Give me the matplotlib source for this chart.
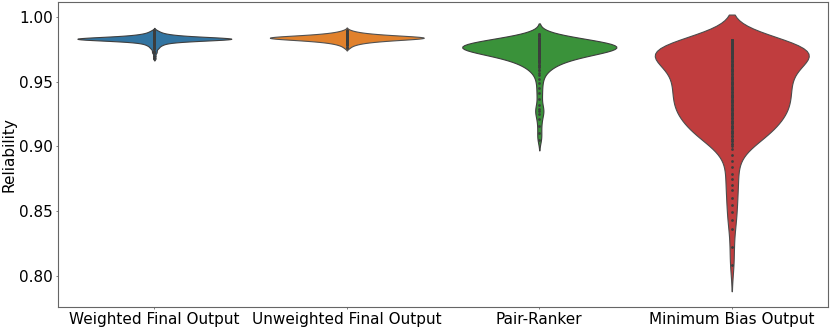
import numpy as np
import matplotlib
matplotlib.use('Agg')
import matplotlib.pyplot as plt
import seaborn as sns

# ==================== 数据 ====================
CATEGORIES = ['Weighted Final Output', 'Unweighted Final Output',
              'Pair-Ranker', 'Minimum Bias Output']

# 每组：可靠性取值 + 对应样本个数
weighted_vals = [0.990, 0.989, 0.988, 0.987, 0.986, 0.985, 0.984, 0.983, 0.982,
                 0.981, 0.980, 0.979, 0.978, 0.977, 0.976, 0.975, 0.974, 0.973,
                 0.972, 0.970, 0.968]
weighted_cnt = [1, 2, 3, 5, 9, 16, 30, 38, 24, 12, 6, 4, 3, 2, 2, 1, 1, 1, 1, 1, 1]

unweighted_vals = [0.990, 0.989, 0.988, 0.987, 0.986, 0.985, 0.984, 0.983, 0.982,
                   0.981, 0.980, 0.979, 0.978, 0.977, 0.976]
unweighted_cnt = [1, 2, 4, 7, 12, 20, 26, 20, 13, 8, 5, 3, 2, 1, 1]

ranker_vals = [0.987, 0.985, 0.983, 0.981, 0.979, 0.977, 0.975, 0.973, 0.971,
               0.969, 0.967, 0.965, 0.963, 0.961, 0.959, 0.957, 0.955, 0.952,
               0.949, 0.945, 0.941, 0.937, 0.932, 0.929, 0.927, 0.925, 0.921,
               0.916, 0.910, 0.905]
ranker_cnt = [2, 4, 8, 12, 16, 18, 16, 12, 9, 7, 5, 4, 3, 2, 2, 1, 1, 1,
              1, 1, 1, 1, 1, 1, 1, 1, 1, 1, 1, 1]

minbias_vals = [0.982, 0.980, 0.978, 0.976, 0.974, 0.972, 0.970, 0.968, 0.966,
                0.964, 0.962, 0.960, 0.958, 0.956, 0.954, 0.952, 0.950, 0.948,
                0.946, 0.944, 0.942, 0.940, 0.938, 0.936, 0.934, 0.932, 0.930,
                0.928, 0.926, 0.924, 0.922, 0.920, 0.918, 0.916, 0.914, 0.912,
                0.910, 0.908, 0.906, 0.904, 0.902, 0.900, 0.898,
                0.893, 0.889, 0.884, 0.879, 0.875, 0.870, 0.866, 0.860, 0.855,
                0.849, 0.843, 0.836, 0.822, 0.808]
minbias_cnt = [6, 7, 8, 8, 8, 7, 6, 5, 5,
               4, 4, 4, 4, 4, 4, 4, 4, 4,
               4, 4, 4, 4, 4, 4, 4, 4, 4,
               4, 4, 4, 4, 3, 3, 3, 3, 3,
               3, 3, 2, 2, 2, 1, 1,
               1, 1, 1, 1, 1, 1, 1, 1, 1,
               1, 1, 1, 1, 1]

GROUPS = [(weighted_vals, weighted_cnt), (unweighted_vals, unweighted_cnt),
          (ranker_vals, ranker_cnt), (minbias_vals, minbias_cnt)]
BW_ADJUST = [0.7, 1.0, 0.7, 0.85]
COLORS = ['C0', 'C1', 'C2', 'C3']

# ==================== 绘图 ====================
fig, ax = plt.subplots(figsize=(8.3, 3.3), dpi=100)

for name, (vals, cnt), bw, col in zip(CATEGORIES, GROUPS, BW_ADJUST, COLORS):
    y = np.repeat(vals, cnt)
    sns.violinplot(x=[name] * len(y), y=y, order=CATEGORIES, color=col,
                   inner='point', inner_kws=dict(s=4, color='#3d3d3d', linewidth=0),
                   density_norm='width', bw_adjust=bw, linewidth=0.8, ax=ax)

ax.set_ylim(0.776, 1.0116)
ax.set_yticks([0.80, 0.85, 0.90, 0.95, 1.00])
ax.set_ylabel('Reliability', fontsize=11, labelpad=2)
ax.set_xlabel('')
ax.tick_params(labelsize=11, length=1.5, width=0.6, pad=2, color='#666666')
for sp in ax.spines.values():
    sp.set_color('#666666')
    sp.set_linewidth(0.8)

plt.subplots_adjust(left=0.07, right=0.9976, top=0.994, bottom=0.07)
plt.savefig('out.png', dpi=100)
plt.close()
